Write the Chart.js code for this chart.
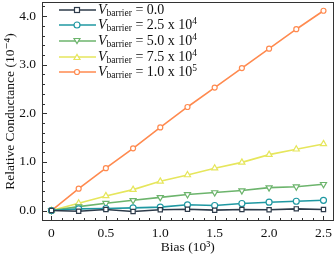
<!DOCTYPE html>
<html><head><meta charset="utf-8">
<script src="https://cdn.jsdelivr.net/npm/chart.js@4/dist/chart.umd.min.js"></script>
<style>
html,body{margin:0;padding:0;background:#fff;}
#wrap{position:relative;width:336px;height:256px;}
#legend{position:absolute;left:59px;top:2px;font-family:"Liberation Serif","DejaVu Serif",serif;font-size:14px;color:#111;}
#legend .row{height:15.6px;display:flex;align-items:center;white-space:nowrap;}
#legend svg{margin-right:2px;}
#legend i{font-style:italic;}
#legend sub{font-size:9.5px;vertical-align:-2px;line-height:0;}
#legend sup{font-size:9.5px;vertical-align:5px;line-height:0;}
</style></head>
<body><div id="wrap"><canvas id="c" width="336" height="256"></canvas><div id="legend"></div></div>
<script>
const bias = [0, 0.25, 0.5, 0.75, 1.0, 1.25, 1.5, 1.75, 2.0, 2.25, 2.5];
const v0   = [0, -0.014, 0.02, -0.02, 0.014, 0.027, 0.007, 0.02, 0.014, 0.034, 0.02];
const v25  = [0, 0.034, 0.041, 0.055, 0.069, 0.117, 0.103, 0.144, 0.171, 0.19, 0.21];
const v50  = [0, 0.08, 0.15, 0.21, 0.27, 0.33, 0.37, 0.41, 0.47, 0.49, 0.54];
const v75  = [0, 0.15, 0.30, 0.43, 0.60, 0.73, 0.87, 0.99, 1.15, 1.26, 1.37];
const v100 = [0, 0.45, 0.87, 1.28, 1.71, 2.13, 2.53, 2.93, 3.33, 3.73, 4.11];
const seriesLabels = ["0.0", "2.5 x 10^4", "5.0 x 10^4", "7.5 x 10^4", "1.0 x 10^5"];
const xTicks = [0, 0.5, 1.0, 1.5, 2.0, 2.5];
const xTickLabels = ["0", "0.5", "1.0", "1.5", "2.0", "2.5"];
const yTicks = [0, 1, 2, 3, 4];
const yTickLabels = ["0.0", "1.0", "2.0", "3.0", "4.0"];

const allSeries = [v0, v25, v50, v75, v100];
const colors = ["#2e3b4a", "#1f98a2", "#6cb46c", "#e6e65c", "#ff8a4f"];
const shapes = ["rect", "circle", "triangle", "triangle", "circle"];
const rots = [0, 0, 180, 0, 0];
const radii = [3, 3, 3.5, 3.5, 2.5];

const datasets = allSeries.map((s, i) => ({
  label: seriesLabels[i],
  data: s.map((v, j) => ({x: bias[j], y: v})),
  borderColor: colors[i],
  backgroundColor: "#ffffff",
  pointBackgroundColor: "#ffffff",
  pointBorderColor: colors[i],
  pointStyle: shapes[i],
  rotation: rots[i],
  pointRadius: radii[i],
  pointBorderWidth: 1.2,
  borderWidth: 1.6,
  tension: 0
}));

const serif = "'Liberation Serif','DejaVu Serif',serif";

const boxTicks = {
  id: 'boxTicks',
  afterDraw(chart) {
    const {ctx, chartArea: a, scales: {x, y}} = chart;
    ctx.save();
    ctx.strokeStyle = "#333";
    ctx.lineWidth = 1;
    ctx.strokeRect(Math.round(a.left) + 0.5, Math.round(a.top) + 0.5, Math.round(a.right - a.left) - 1, Math.round(a.bottom - a.top) - 1);
    ctx.beginPath();
    for (let v = 0; v <= 2.5001; v += 0.1) {
      const px = Math.round(x.getPixelForValue(v)) + 0.5;
      const major = Math.abs(v * 2 - Math.round(v * 2)) < 1e-6;
      const len = major ? 5 : 3;
      ctx.moveTo(px, a.bottom); ctx.lineTo(px, a.bottom - len);
    }
    for (let v = 0; v <= 4.2001; v += 0.2) {
      const py = Math.round(y.getPixelForValue(v)) + 0.5;
      const major = Math.abs(v - Math.round(v)) < 1e-6;
      const len = major ? 5 : 3;
      ctx.moveTo(a.left, py); ctx.lineTo(a.left + len, py);
    }
    ctx.stroke();
    ctx.restore();
  }
};

new Chart(document.getElementById('c'), {
  type: 'line',
  data: {datasets},
  options: {
    responsive: false,
    animation: false,
    devicePixelRatio: 1,
    layout: {autoPadding: false, padding: {top: 2, right: 2.5, left: 0, bottom: 0}},
    plugins: {legend: {display: false}, tooltip: {enabled: false}},
    scales: {
      x: {
        type: 'linear', min: -0.087, max: 2.592,
        grid: {display: false, drawTicks: false},
        border: {display: false},
        afterBuildTicks: s => { s.ticks = xTicks.map(v => ({value: v})); },
        afterFit: s => { s.height = 35; s.paddingLeft = 0; s.paddingRight = 0; },
        ticks: {
          padding: 4, color: "#111",
          font: {family: serif, size: 13.5},
          callback: (v) => { const k = xTicks.indexOf(v); return k >= 0 ? xTickLabels[k] : ''; }
        },
        title: {display: true, text: "Bias (10³)", color: "#111",
          font: {family: serif, size: 13.5}, padding: {top: 0, bottom: 0}}
      },
      y: {
        type: 'linear', min: -0.216, max: 4.29,
        grid: {display: false, drawTicks: false},
        border: {display: false},
        afterBuildTicks: s => { s.ticks = yTicks.map(v => ({value: v})); },
        afterFit: s => { s.width = 42; s.paddingTop = 0; s.paddingBottom = 0; },
        ticks: {
          padding: 6, color: "#111",
          font: {family: serif, size: 13.5},
          callback: (v) => { const k = yTicks.indexOf(v); return k >= 0 ? yTickLabels[k] : ''; }
        },
        title: {display: true, text: "Relative Conductance (10⁻⁴)", color: "#111",
          font: {family: serif, size: 13.5}, padding: {top: 2, bottom: 0}}
      }
    }
  },
  plugins: [boxTicks]
});

// HTML legend
const leg = document.getElementById('legend');
seriesLabels.forEach((lab, i) => {
  const row = document.createElement('div');
  row.className = 'row';
  const c = colors[i];
  let marker = '';
  if (shapes[i] === 'rect') marker = `<rect x="15.5" y="2.5" width="5" height="5" fill="#fff" stroke="${c}" stroke-width="1.2"/>`;
  else if (shapes[i] === 'circle') marker = `<circle cx="18" cy="5" r="${radii[i]}" fill="#fff" stroke="${c}" stroke-width="1.2"/>`;
  else if (rots[i] === 180) marker = `<polygon points="15,2.5 21,2.5 18,7.5" fill="#fff" stroke="${c}" stroke-width="1.2"/>`;
  else marker = `<polygon points="15,7.5 21,7.5 18,2.5" fill="#fff" stroke="${c}" stroke-width="1.2"/>`;
  const txt = lab.replace(/\^(\d+)/, '<sup>$1</sup>');
  row.innerHTML = `<svg width="37" height="10"><line x1="0" y1="5" x2="37" y2="5" stroke="${c}" stroke-width="1.6"/>${marker}</svg><span><i>V</i><sub>barrier</sub> = ${txt}</span>`;
  leg.appendChild(row);
});
</script>
</body></html>
